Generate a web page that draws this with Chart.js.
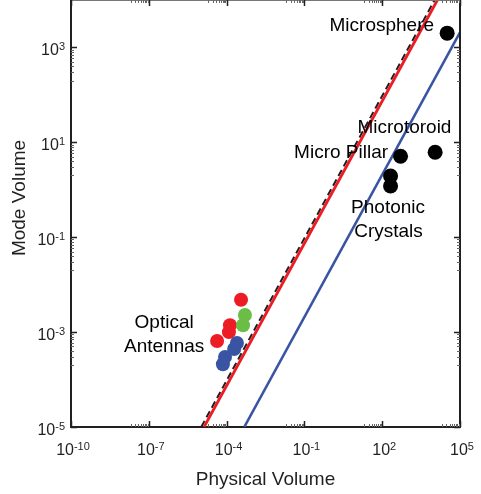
<!DOCTYPE html>
<html>
<head>
<meta charset="utf-8">
<script src="https://cdn.jsdelivr.net/npm/chart.js@4.4.1/dist/chart.umd.min.js"></script>
<style>
  html, body { margin: 0; padding: 0; background: #ffffff; }
  #c { display: block; }
</style>
</head>
<body>
<canvas id="c" width="481" height="494"></canvas>
<script>
// ---------- data ----------
const xTickExps = [-10, -7, -4, -1, 2, 5];
const yTickExps = [-5, -3, -1, 1, 3];

const redX   = [3.6e-4, 1.35e-4, 1.23e-4, 4.3e-5];
const redY   = [4.8e-3, 1.4e-3, 1.0e-3, 6.5e-4];
const greenX = [5.1e-4, 4.3e-4];
const greenY = [2.3e-3, 1.4e-3];
const blueX  = [2.5e-4, 1.95e-4, 8.7e-5, 7.2e-5];
const blueY  = [5.9e-4, 4.4e-4, 3.0e-4, 2.1e-4];
const blackX = [3.2e4, 5.1e2, 1.1e4, 2.1e2, 2.1e2];
const blackY = [2.0e3, 5.1, 6.2, 1.95, 1.2];

const redLineX   = [1.35e-5, 1.35e4];
const redLineY   = [1e-5, 1e4];
const dashLineX  = [1.05e-5, 1.05e4];
const dashLineY  = [1e-5, 1e4];
const blueLineX  = [4.8e-4, 1e5];
const blueLineY  = [1e-5, 2.08e3];

const noteText  = ['Microsphere', 'Microtoroid', 'Micro Pillar', 'Photonic', 'Crystals', 'Optical', 'Antennas'];
const noteX     = [1e4, 7.2e2, 168, 168, 175, 3.9e-7, 3.9e-7];
const noteY     = [2.2e3, 15.8, 4.7, 0.32, 0.1, 1.23e-3, 3.8e-4];
const noteAlign = ['right', 'center', 'right', 'center', 'center', 'center', 'center'];

const xTitle = 'Physical Volume';
const yTitle = 'Mode Volume';

// ---------- helpers ----------
const zip = (xs, ys) => xs.map((x, i) => ({ x: x, y: ys[i] }));
const FONT = '"Liberation Sans", Arial, Helvetica, sans-serif';
const AXIS = '#231F20';

function drawPow(ctx, exp, x, y, align) {
  const base = '10', sup = String(exp);
  ctx.font = '16px ' + FONT;
  const wb = ctx.measureText(base).width;
  ctx.font = '11px ' + FONT;
  const we = ctx.measureText(sup).width;
  const total = wb + we;
  let sx = x;
  if (align === 'center') sx = x - total / 2;
  else if (align === 'right') sx = x - total;
  ctx.textAlign = 'left';
  ctx.textBaseline = 'alphabetic';
  ctx.font = '16px ' + FONT;
  ctx.fillText(base, sx, y);
  ctx.font = '11px ' + FONT;
  ctx.fillText(sup, sx + wb, y - 5);
}

const framePlugin = {
  id: 'frame',
  afterDatasetsDraw(chart) {
    const ctx = chart.ctx;
    const xs = chart.scales.x, ys = chart.scales.y;
    const a = chart.chartArea;
    ctx.save();

    // annotations
    ctx.fillStyle = '#000';
    ctx.font = '19px ' + FONT;
    ctx.textBaseline = 'alphabetic';
    noteText.forEach((t, i) => {
      ctx.textAlign = noteAlign[i];
      ctx.fillText(t, xs.getPixelForValue(noteX[i]), ys.getPixelForValue(noteY[i]));
    });

    // right and top frame lines
    ctx.strokeStyle = AXIS;
    ctx.lineWidth = 2;
    ctx.beginPath();
    ctx.moveTo(a.right, a.bottom);
    ctx.lineTo(a.right, a.top);
    ctx.stroke();
    ctx.strokeStyle = '#777';
    ctx.beginPath();
    ctx.moveTo(a.right, a.top);
    ctx.lineTo(a.left, a.top);
    ctx.stroke();
    ctx.strokeStyle = AXIS;

    // major ticks (inward, all four sides)
    ctx.lineWidth = 1.5;
    ctx.beginPath();
    xTickExps.forEach(e => {
      const px = Math.round(xs.getPixelForValue(Math.pow(10, e))) + 0.5;
      ctx.moveTo(px, a.bottom); ctx.lineTo(px, a.bottom - 6);
      ctx.moveTo(px, a.top); ctx.lineTo(px, a.top + 6);
    });
    yTickExps.forEach(e => {
      const py = Math.round(ys.getPixelForValue(Math.pow(10, e))) + 0.5;
      ctx.moveTo(a.left, py); ctx.lineTo(a.left + 6, py);
      ctx.moveTo(a.right, py); ctx.lineTo(a.right - 6, py);
    });
    ctx.stroke();

    // minor ticks (decade just below each major tick)
    ctx.lineWidth = 1;
    ctx.strokeStyle = '#666';
    ctx.beginPath();
    xTickExps.forEach(e => {
      for (let m = 2; m <= 9; m++) {
        const v = m * Math.pow(10, e - 1);
        if (v < xs.min) continue;
        const px = Math.round(xs.getPixelForValue(v)) + 0.5;
        ctx.moveTo(px, a.bottom); ctx.lineTo(px, a.bottom - 3);
        ctx.moveTo(px, a.top); ctx.lineTo(px, a.top + 3);
      }
    });
    yTickExps.forEach(e => {
      for (let m = 2; m <= 9; m++) {
        const v = m * Math.pow(10, e - 1);
        if (v < ys.min) continue;
        const py = Math.round(ys.getPixelForValue(v)) + 0.5;
        ctx.moveTo(a.left, py); ctx.lineTo(a.left + 3, py);
        ctx.moveTo(a.right, py); ctx.lineTo(a.right - 3, py);
      }
    });
    ctx.stroke();

    // tick labels
    ctx.fillStyle = '#231F20';
    xTickExps.forEach(e => {
      drawPow(ctx, e, xs.getPixelForValue(Math.pow(10, e)) + 2, a.bottom + 28, 'center');
    });
    yTickExps.forEach(e => {
      drawPow(ctx, e, a.left - 6, ys.getPixelForValue(Math.pow(10, e)) + 7.5, 'right');
    });

    // axis titles
    ctx.font = '19px ' + FONT;
    ctx.textAlign = 'center';
    ctx.textBaseline = 'alphabetic';
    ctx.fillText(xTitle, (a.left + a.right) / 2, a.bottom + 58);
    ctx.translate(25, 198);
    ctx.rotate(-Math.PI / 2);
    ctx.fillText(yTitle, 0, 0);
    ctx.restore();
  }
};

const pointDs = (label, xs, ys, color, r) => ({
  type: 'scatter', label: label, data: zip(xs, ys),
  backgroundColor: color, borderColor: color, borderWidth: 0,
  pointRadius: r, pointHoverRadius: r, order: 0
});

const lineDs = (label, xs, ys, color, w, dash, order) => ({
  type: 'line', label: label, data: zip(xs, ys),
  borderColor: color, borderWidth: w, borderDash: dash,
  pointRadius: 0, fill: false, tension: 0, order: order
});

new Chart(document.getElementById('c').getContext('2d'), {
  type: 'scatter',
  data: {
    datasets: [
      pointDs('Black', blackX, blackY, '#000000', 7.5),
      pointDs('Blue', blueX, blueY, '#3A54A4', 7),
      pointDs('Green', greenX, greenY, '#6ABD45', 7),
      pointDs('Red', redX, redY, '#ED1C24', 7),
      lineDs('Red line', redLineX, redLineY, '#ED1C24', 2.8, [], 1),
      lineDs('Dashed line', dashLineX, dashLineY, '#231F20', 2, [7, 4], 2),
      lineDs('Blue line', blueLineX, blueLineY, '#3A54A4', 2.6, [], 3)
    ]
  },
  options: {
    responsive: false,
    animation: false,
    devicePixelRatio: 1,
    layout: { autoPadding: false, padding: { left: 71, right: 21, top: 0, bottom: 67 } },
    plugins: { legend: { display: false }, tooltip: { enabled: false } },
    scales: {
      x: {
        type: 'logarithmic', min: 1e-10, max: 1e5,
        grid: { display: false, drawTicks: false },
        ticks: { display: false },
        border: { display: true, color: AXIS, width: 2 }
      },
      y: {
        type: 'logarithmic', min: 1e-5, max: 1e4,
        grid: { display: false, drawTicks: false },
        ticks: { display: false },
        border: { display: true, color: AXIS, width: 2 }
      }
    }
  },
  plugins: [framePlugin]
});
</script>
</body>
</html>
